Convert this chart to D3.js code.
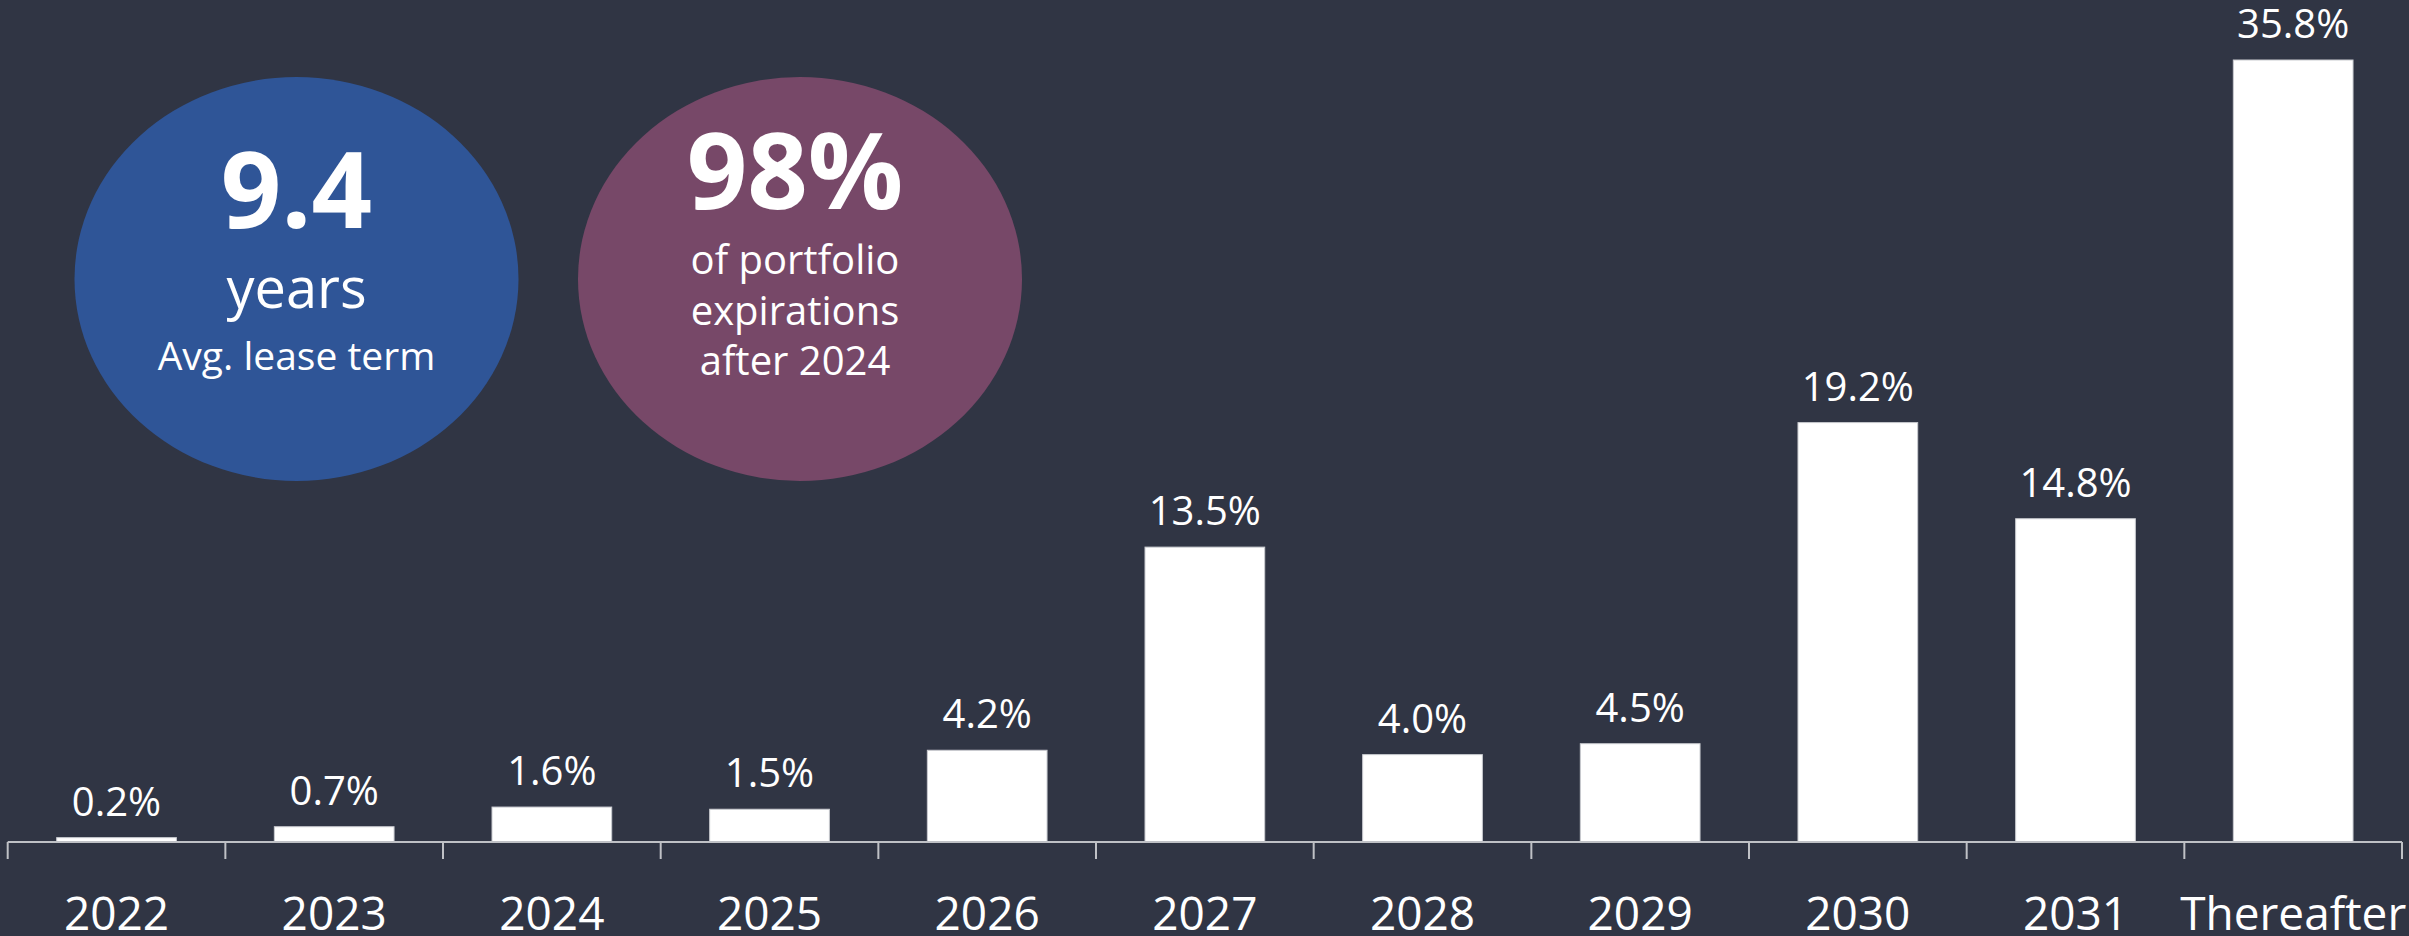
<!DOCTYPE html>
<html>
<head>
<meta charset="utf-8">
<script src="https://cdn.jsdelivr.net/npm/d3@7"></script>
<style>
  html, body { margin: 0; padding: 0; background: #303544; overflow: hidden; }
  svg { display: block; }
  text { font-family: "Open Sans", "Noto Sans", sans-serif; fill: #ffffff; }
</style>
</head>
<body>
<svg id="chart" width="2409" height="936"></svg>
<script>
// ---- data ----
const categories = ["2022", "2023", "2024", "2025", "2026", "2027", "2028", "2029", "2030", "2031", "Thereafter"];
const values = [0.2, 0.7, 1.6, 1.5, 4.2, 13.5, 4.0, 4.5, 19.2, 14.8, 35.8];
const valueLabels = ["0.2%", "0.7%", "1.6%", "1.5%", "4.2%", "13.5%", "4.0%", "4.5%", "19.2%", "14.8%", "35.8%"];
const badgeHeadlines = ["9.4", "98%"];
const badgeLines = [["years", "Avg. lease term"], ["of portfolio", "expirations", "after 2024"]];

// ---- layout ----
const W = 2409, H = 936;
const svg = d3.select("#chart");
svg.append("rect").attr("width", W).attr("height", H).attr("fill", "#303544");

const baseY = 842;
const x = d3.scaleBand().domain(categories).range([7.7, 2402]).paddingInner(0.45).paddingOuter(0.225);
const y = d3.scaleLinear().domain([0, 35.8]).range([baseY, 60]);

// bars
svg.append("g").selectAll("rect").data(categories).join("rect")
  .attr("x", d => x(d))
  .attr("width", x.bandwidth())
  .attr("y", (d, i) => y(values[i]))
  .attr("height", (d, i) => baseY - y(values[i]))
  .attr("fill", "#ffffff")
  .attr("stroke", "#c9cbd0")
  .attr("stroke-width", 1);

// value labels
svg.append("g").selectAll("text").data(categories).join("text")
  .attr("x", d => x(d) + x.bandwidth() / 2)
  .attr("y", (d, i) => y(values[i]) - 22)
  .attr("text-anchor", "middle")
  .attr("font-size", 40)
  .text((d, i) => valueLabels[i]);

// axis line and boundary ticks
const axisG = svg.append("g");
const [r0, r1] = x.range();
axisG.append("line").attr("x1", r0).attr("x2", r1).attr("y1", baseY).attr("y2", baseY)
  .attr("stroke", "#bfc1c6").attr("stroke-width", 2);
const bounds = d3.range(categories.length + 1).map(i => r0 + i * x.step());
axisG.selectAll("line.tick").data(bounds).join("line").attr("class", "tick")
  .attr("x1", d => d).attr("x2", d => d).attr("y1", baseY).attr("y2", baseY + 17)
  .attr("stroke", "#bfc1c6").attr("stroke-width", 2);

// category labels
svg.append("g").selectAll("text").data(categories).join("text")
  .attr("x", d => x(d) + x.bandwidth() / 2)
  .attr("y", 930)
  .attr("text-anchor", "middle")
  .attr("font-size", 46)
  .text(d => d);

// ---- badges ----
const badges = [
  { cx: 296.5, cy: 279, tx: 296.5, fill: "#2f5597", headY: 228, lineY: [308, 370], lineSize: [56, 39] },
  { cx: 800, cy: 279, tx: 795, fill: "#774868", headY: 209, lineY: [274, 325, 375], lineSize: [40, 40, 40] }
];
badges.forEach((b, i) => {
  const g = svg.append("g");
  g.append("ellipse").attr("cx", b.cx).attr("cy", b.cy).attr("rx", 222).attr("ry", 202).attr("fill", b.fill);
  g.append("text").attr("x", b.tx).attr("y", b.headY).attr("text-anchor", "middle")
    .attr("font-size", 106).attr("font-weight", 700).text(badgeHeadlines[i]);
  badgeLines[i].forEach((t, j) => {
    g.append("text").attr("x", b.tx).attr("y", b.lineY[j]).attr("text-anchor", "middle")
      .attr("font-size", b.lineSize[j]).text(t);
  });
});
</script>
</body>
</html>
